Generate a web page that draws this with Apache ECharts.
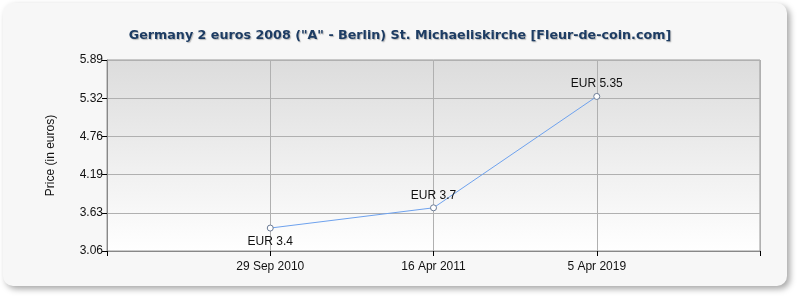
<!DOCTYPE html>
<html><head><meta charset="utf-8">
<script src="https://cdn.jsdelivr.net/npm/echarts@6/dist/echarts.min.js"></script>
<style>html,body{margin:0;padding:0;background:#fff}#c{width:800px;height:300px}</style>
</head><body><div id="c"></div>
<script>
const titleText = 'Germany 2 euros 2008 ("A" - Berlin) St. Michaeliskirche [Fleur-de-coin.com]';
const categories = ['', '29 Sep 2010', '16 Apr 2011', '5 Apr 2019', ''];
const prices = [null, 3.4, 3.7, 5.35, null];
const pointLabels = ['', 'EUR 3.4', 'EUR 3.7', 'EUR 5.35', ''];
const labelBelow = [false, true, false, false, false];
const yTickLabels = ['3.06', '3.63', '4.19', '4.76', '5.32', '5.89'];
const yMin = 3.06, yMax = 5.89;

const chart = echarts.init(document.getElementById('c'), null, {renderer: 'canvas'});
chart.setOption({
  animation: false,
  graphic: [{
    type: 'rect', z: -10, silent: true,
    shape: {x: 3, y: 3, width: 784, height: 283, r: 10},
    style: {fill: '#f7f7f7', shadowBlur: 6, shadowOffsetX: 3, shadowOffsetY: 3, shadowColor: 'rgba(0,0,0,0.35)'}
  }],
  title: {
    text: titleText, left: 'center', top: 24,
    textStyle: {fontFamily: 'DejaVu Sans', fontWeight: 'bold', fontSize: 12.7, color: '#1d3c63',
      textShadowColor: 'rgba(0,0,0,0.25)', textShadowOffsetX: 1, textShadowOffsetY: 1, textShadowBlur: 1}
  },
  grid: {
    left: 107, right: 40, top: 60, bottom: 49, show: true, borderColor: '#999', borderWidth: 1,
    backgroundColor: {type: 'linear', x: 0, y: 0, x2: 0, y2: 1,
      colorStops: [{offset: 0, color: '#dcdcdc'}, {offset: 1, color: '#ffffff'}]}
  },
  xAxis: {
    type: 'category', data: categories, boundaryGap: false,
    axisLine: {lineStyle: {color: '#888', width: 1}},
    axisTick: {show: true, length: 5, lineStyle: {color: '#000'}},
    axisLabel: {color: '#111', fontFamily: 'Liberation Sans', fontSize: 12, margin: 10},
    splitLine: {show: true, lineStyle: {color: '#b0b0b0', width: 1}}
  },
  yAxis: {
    type: 'value', min: yMin, max: yMax, interval: (yMax - yMin) / 5,
    name: 'Price (in euros)', nameLocation: 'middle', nameGap: 50,
    nameTextStyle: {fontFamily: 'Liberation Sans', fontSize: 12, color: '#111'},
    axisLine: {show: true, lineStyle: {color: '#888'}},
    axisTick: {show: true, length: 5, lineStyle: {color: '#000'}},
    axisLabel: {color: '#111', fontFamily: 'Liberation Sans', fontSize: 12, margin: 4,
      formatter: (v, i) => yTickLabels[i] !== undefined ? yTickLabels[i] : v.toFixed(2)},
    splitLine: {show: true, lineStyle: {color: '#b0b0b0', width: 1}}
  },
  series: [{
    type: 'line',
    data: prices.map((v, i) => ({
      value: v,
      label: {show: v !== null, position: labelBelow[i] ? 'bottom' : 'top', distance: labelBelow[i] ? 4 : 3,
        formatter: () => pointLabels[i], color: '#111', fontFamily: 'Liberation Sans', fontSize: 12}
    })),
    lineStyle: {color: '#6ea2ee', width: 1},
    symbol: 'circle', symbolSize: 6, showSymbol: true, connectNulls: false,
    itemStyle: {color: '#ffffff', borderColor: '#6b7b95', borderWidth: 1}
  }]
});
</script></body></html>
